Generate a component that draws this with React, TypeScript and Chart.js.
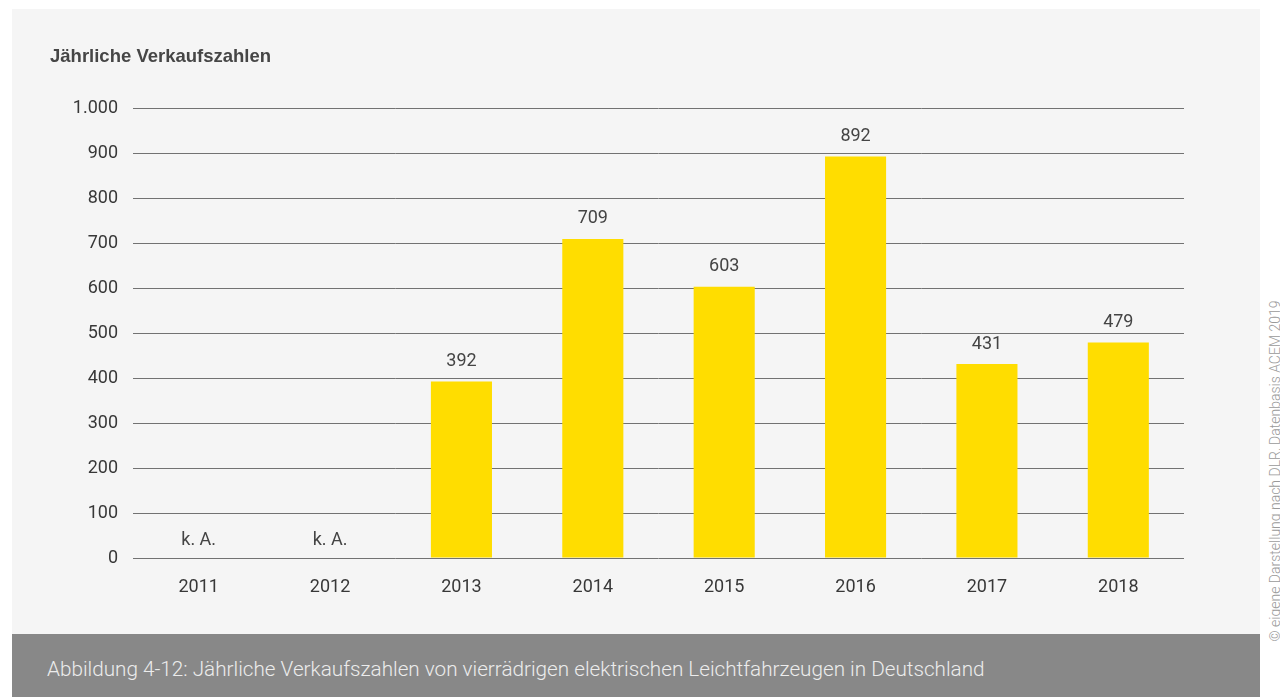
import React, { useEffect, useRef } from "react";
import { Chart, registerables } from "chart.js";

Chart.register(...registerables);

const years = ["2011", "2012", "2013", "2014", "2015", "2016", "2017", "2018"];
const sales: (number | null)[] = [null, null, 392, 709, 603, 892, 431, 479];
const missingLabel = "k. A.";
const yTicks = [0, 100, 200, 300, 400, 500, 600, 700, 800, 900, 1000];

const chartTitle = "Jährliche Verkaufszahlen";
const caption =
  "Abbildung 4-12: Jährliche Verkaufszahlen von vierrädrigen elektrischen Leichtfahrzeugen in Deutschland";
const source = "© eigene Darstellung nach DLR, Datenbasis ACEM 2019";

const FONT = "Roboto, 'Helvetica Neue', Arial, sans-serif";

// Writes each value above its bar, or "k. A." where no figure exists
const valueLabels = {
  id: "valueLabels",
  afterDatasetsDraw(chart: any) {
    const { ctx } = chart;
    const meta = chart.getDatasetMeta(0);
    const yScale = chart.scales.y;
    ctx.save();
    ctx.font = `18px ${FONT}`;
    ctx.fillStyle = "#444444";
    ctx.textAlign = "center";
    ctx.textBaseline = "middle";
    meta.data.forEach((bar: any, i: number) => {
      const v = sales[i];
      if (v == null) {
        ctx.fillText(missingLabel, bar.x, yScale.getPixelForValue(0) - 18);
      } else {
        ctx.fillText(v.toLocaleString("de-DE"), bar.x, bar.y - 20);
      }
    });
    ctx.restore();
  },
};

export default function App() {
  const canvasRef = useRef<HTMLCanvasElement | null>(null);

  useEffect(() => {
    document.body.style.margin = "0";
    const canvas = canvasRef.current;
    if (!canvas) return;
    const chart = new Chart(canvas, {
      type: "bar",
      data: {
        labels: years,
        datasets: [
          {
            data: sales,
            backgroundColor: "#FFDD00",
            borderWidth: 0,
            barPercentage: 0.465,
            categoryPercentage: 1,
          },
        ],
      },
      options: {
        responsive: false,
        maintainAspectRatio: false,
        animation: false,
        layout: { padding: { top: 99, right: 76, bottom: 0, left: 0 } },
        plugins: {
          legend: { display: false },
          tooltip: { enabled: false },
          title: { display: false },
        },
        scales: {
          x: {
            grid: { display: false, drawTicks: false },
            border: { display: false },
            ticks: {
              color: "#383838",
              font: { family: FONT, size: 18 },
              padding: 19,
            },
            afterFit(scale: any) {
              scale.height = 76;
            },
          },
          y: {
            min: 0,
            max: 1000,
            afterBuildTicks(scale: any) {
              scale.ticks = yTicks.map((v) => ({ value: v }));
            },
            grid: {
              color: "#727272",
              lineWidth: 1,
              drawTicks: false,
            },
            border: { display: false },
            ticks: {
              color: "#383838",
              font: { family: FONT, size: 18 },
              padding: 15,
              callback: (v: any) => Number(v).toLocaleString("de-DE"),
            },
            afterFit(scale: any) {
              scale.width = 121;
            },
          },
        },
      },
      plugins: [valueLabels],
    });
    return () => chart.destroy();
  }, []);

  return (
    <div
      style={{
        position: "relative",
        width: 1280,
        height: 697,
        background: "#ffffff",
        overflow: "hidden",
        fontFamily: FONT,
      }}
    >
      <div
        style={{
          position: "absolute",
          left: 12,
          top: 9,
          width: 1248,
          height: 625,
          background: "#f5f5f5",
        }}
      >
        <canvas ref={canvasRef} width={1248} height={625} style={{ display: "block" }} />
        <div
          style={{
            position: "absolute",
            left: 38,
            top: 36,
            fontSize: 18.5,
            lineHeight: "22px",
            fontWeight: 700,
            color: "#464646",
            fontFamily: "'Liberation Sans', Arial, sans-serif",
            whiteSpace: "nowrap",
          }}
        >
          {chartTitle}
        </div>
      </div>
      <div
        style={{
          position: "absolute",
          left: 12,
          top: 634,
          width: 1248,
          height: 63,
          background: "#888888",
        }}
      >
        <div
          style={{
            position: "absolute",
            left: 35,
            top: 23,
            fontSize: 20.7,
            fontWeight: 300,
            color: "#ececec",
            whiteSpace: "nowrap",
            lineHeight: "24px",
          }}
        >
          {caption}
        </div>
      </div>
      <div
        style={{
          position: "absolute",
          left: 1275 - 200,
          top: 471 - 8,
          width: 400,
          height: 16,
          lineHeight: "16px",
          fontSize: 14,
          fontWeight: 300,
          color: "#9a9a9a",
          textAlign: "center",
          whiteSpace: "nowrap",
          transform: "rotate(-90deg)",
          transformOrigin: "center",
        }}
      >
        {source}
      </div>
    </div>
  );
}
